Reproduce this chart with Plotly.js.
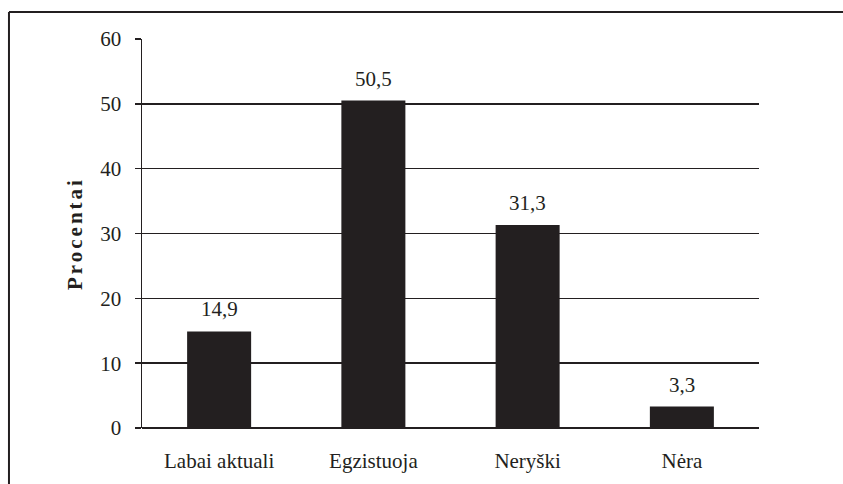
<!DOCTYPE html>
<html>
<head>
<meta charset="utf-8">
<script src="https://cdn.plot.ly/plotly-3.0.1.min.js"></script>
<style>html,body{margin:0;padding:0;background:#fff;}#chart{width:843px;height:484px;}
.ytitle{letter-spacing:3px;}</style>
</head>
<body>
<div id="chart"></div>
<script>
const categories = ["Labai aktuali", "Egzistuoja", "Neryški", "Nėra"];
const values = [14.9, 50.5, 31.3, 3.3];
const yTicks = [0, 10, 20, 30, 40, 50, 60];
const yTitle = "Procentai";

const ink = "#231f20";
const font = "Liberation Serif";

const trace = {
  type: "bar",
  x: categories,
  y: values,
  marker: {color: ink, line: {width: 0}},
  hoverinfo: "skip"
};

const annotations = categories.map((c, i) => ({
  x: c, y: values[i], xref: "x", yref: "y",
  text: values[i].toFixed(1).replace(".", ","),
  showarrow: false, yanchor: "bottom", yshift: 8,
  font: {family: font, size: 21, color: ink}
}));

const layout = {
  width: 843, height: 484,
  margin: {l: 142, r: 84, t: 39, b: 56},
  paper_bgcolor: "#fff", plot_bgcolor: "#fff",
  showlegend: false,
  bargap: 0.585,
  font: {family: font, size: 21, color: ink},
  xaxis: {
    type: "category",
    showgrid: false, zeroline: false,
    showline: false, ticks: "",
    tickfont: {family: font, size: 21, color: ink},
    ticklabelstandoff: 18
  },
  yaxis: {
    range: [0, 60], tickvals: yTicks, ticktext: yTicks.map(String),
    showgrid: true, gridcolor: ink, gridwidth: 1.5,
    zeroline: true, zerolinecolor: ink, zerolinewidth: 1.5,
    showline: true, linecolor: ink, linewidth: 1.5,
    ticks: "outside", ticklen: 6, tickcolor: ink, tickwidth: 1.5,
    tickfont: {family: font, size: 21, color: ink},
    ticklabelstandoff: 9,
    title: {text: "<b>" + yTitle + "</b>", font: {family: font, size: 21, color: ink}, standoff: 12}
  },
  annotations: annotations,
  shapes: [
    {type: "line", xref: "paper", yref: "paper", x0: -0.2156, x1: 1.2, y0: 1.0694, y1: 1.0694, line: {color: ink, width: 2}},
    {type: "line", xref: "paper", yref: "paper", x0: -0.2156, x1: -0.2156, y0: 1.0694, y1: -0.2, line: {color: ink, width: 2}}
  ]
};

Plotly.newPlot("chart", [trace], layout, {displayModeBar: false, staticPlot: true});
</script>
</body>
</html>
